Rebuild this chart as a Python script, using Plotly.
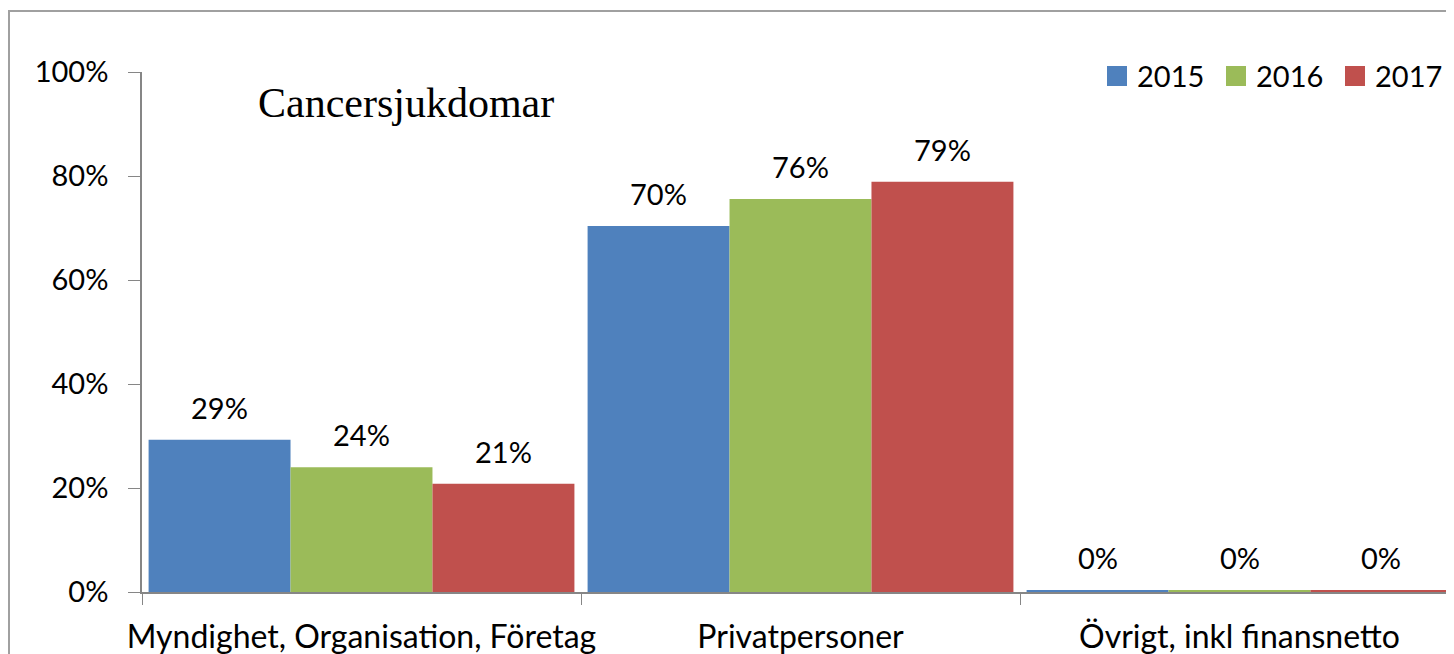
import plotly.graph_objects as go

categories = ["Myndighet, Organisation, Företag", "Privatpersoner", "Övrigt, inkl finansnetto"]
years = ["2015", "2016", "2017"]
values_2015 = [29.3, 70.4, 0.3]
values_2016 = [24.0, 75.6, 0.4]
values_2017 = [20.8, 78.9, 0.4]
colors = ["#4F81BD", "#9BBB59", "#C0504D"]
y_ticks = [0, 20, 40, 60, 80, 100]
y_tick_labels = ["0%", "20%", "40%", "60%", "80%", "100%"]

series = [values_2015, values_2016, values_2017]
font_family = "Lato, Carlito, 'Open Sans', sans-serif"
FS = 29

W, H = 1446, 646
ML, MT, MB = 134, 64, 62
PW, PH = W - ML, H - MT - MB


def px_x(page_x):
    return (page_x - 8 - ML) / PW


def px_y(page_y):
    return (H - MB - (page_y - 8)) / PH


fig = go.Figure()
for name, vals, col in zip(years, series, colors):
    fig.add_trace(go.Bar(
        x=categories, y=vals, name=name,
        marker=dict(color=col, line=dict(width=0)),
        showlegend=False,
    ))

bargap = 0.03
w = (1 - bargap) / len(years)
for j, vals in enumerate(series):
    for i, v in enumerate(vals):
        fig.add_annotation(
            x=i + (j - 1) * w, y=v, xref="x", yref="y",
            text=f"{round(v)}%", showarrow=False,
            yanchor="bottom", yshift=13,
            font=dict(family=font_family, size=FS, color="#000"),
        )

# manual legend (larger swatches than plotly's built-in legend)
leg_x0, leg_step, leg_sq = 1107, 119, 20
leg_yc = 76
for j, (name, col) in enumerate(zip(years, colors)):
    sx = leg_x0 + j * leg_step
    fig.add_shape(type="rect", xref="paper", yref="paper",
                  x0=px_x(sx), x1=px_x(sx + leg_sq),
                  y0=px_y(leg_yc + leg_sq / 2), y1=px_y(leg_yc - leg_sq / 2),
                  line=dict(width=0), fillcolor=col)
    fig.add_annotation(x=px_x(sx + 28), y=px_y(leg_yc), xref="paper", yref="paper",
                       text=name, showarrow=False, xanchor="left", yanchor="middle",
                       font=dict(family=font_family, size=FS, color="#000"))

fig.add_annotation(
    x=px_x(256), y=px_y(103), xref="paper", yref="paper",
    text="Cancersjukdomar", showarrow=False, xanchor="left", yanchor="middle",
    font=dict(family="'Liberation Serif', 'Times New Roman', serif", size=42, color="#000"),
)

# outer frame of the chart area (extends past the crop)
fig.add_shape(type="rect", xref="paper", yref="paper",
              x0=px_x(9), x1=1.2, y0=-0.3, y1=px_y(11),
              line=dict(color="#A0A0A0", width=2), fillcolor="rgba(0,0,0,0)", layer="below")

fig.update_layout(
    width=W, height=H,
    margin=dict(l=ML, r=0, t=MT, b=MB, autoexpand=False),
    paper_bgcolor="white", plot_bgcolor="white",
    barmode="group", bargap=bargap, bargroupgap=0,
    font=dict(family=font_family, size=FS, color="#000"),
    showlegend=False,
    xaxis=dict(
        range=[-0.5, -0.5 + PW / 439], showline=True, linecolor="#868686", linewidth=1.5,
        ticks="outside", tickson="boundaries", ticklen=11, tickcolor="#868686",
        tickfont=dict(family=font_family, size=32), showgrid=False,
        ticklabelstandoff=16, tickangle=0, automargin=False,
    ),
    yaxis=dict(
        range=[0, 100], tickvals=y_ticks, ticktext=y_tick_labels,
        showline=True, linecolor="#868686", linewidth=1.5,
        ticks="outside", ticklen=12, tickcolor="#868686", showgrid=False,
        zeroline=False, tickfont=dict(family=font_family, size=FS),
        ticklabelstandoff=14, automargin=False,
    ),
)

fig.write_html("out.html")
